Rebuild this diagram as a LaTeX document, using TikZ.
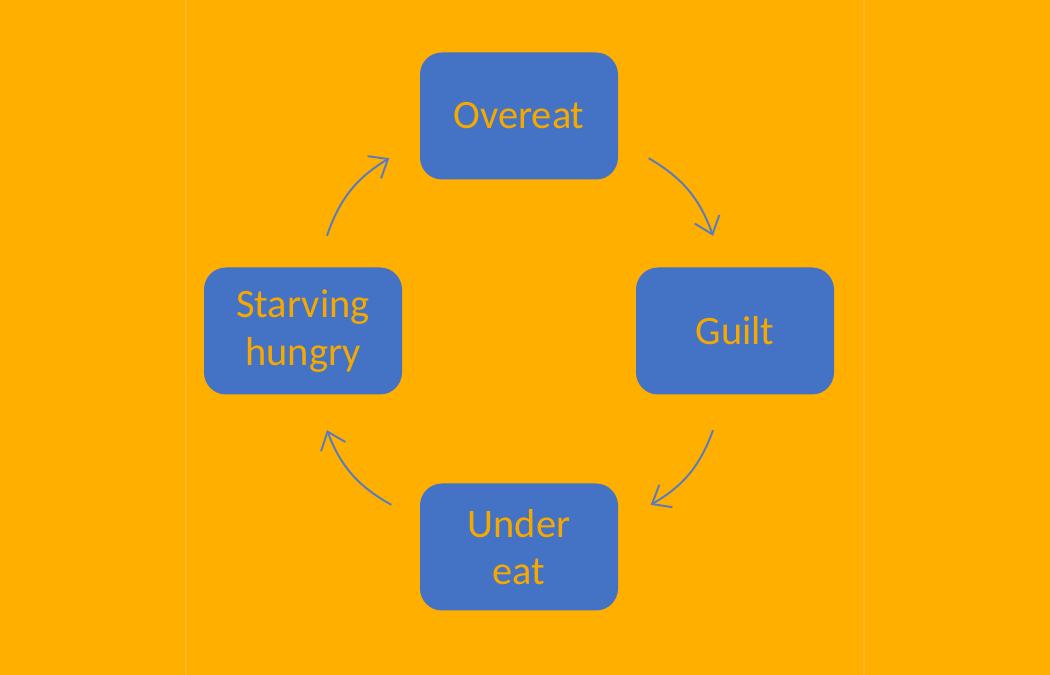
\documentclass[tikz,border=0pt]{standalone}
\usepackage{fontspec}
\setmainfont{Carlito}
\usetikzlibrary{arrows.meta,positioning}
\definecolor{bgorange}{HTML}{FFAF00}
\definecolor{edgeorange}{HTML}{FFB91C}
\definecolor{boxblue}{HTML}{4472C4}
\definecolor{textorange}{HTML}{F5A900}
\definecolor{arrowblue}{HTML}{5A7CBE}
\tikzset{
  cyclebox/.style={rectangle,rounded corners=0.22cm,fill=boxblue,
    minimum width=1.98cm,minimum height=1.27cm,align=center,
    text=textorange,font=\fontsize{11.5}{13.5}\selectfont},
  cyclearrow/.style={draw=arrowblue,line width=0.55pt,
    -{Straight Barb[length=1.6mm,width=2.6mm]}}
}

\begin{document}
\begin{tikzpicture}
    \fill[bgorange] (0,0) rectangle (10.5,6.75);
    \useasboundingbox (0,0) rectangle (10.5,6.75);
    \draw[edgeorange,line width=0.4pt] (1.86,0) -- (1.86,6.75);
    \draw[edgeorange,line width=0.4pt] (8.64,0) -- (8.64,6.75);
    % the four steps
    \node[cyclebox] (over) at (5.19,5.59) {Overeat};
    \node[cyclebox] (guilt) at (7.35,3.44) {Guilt};
    \node[cyclebox] (under) at (5.19,1.28) {Under\\eat};
    \node[cyclebox] (starv) at (3.03,3.44) {Starving\\hungry};
    % arrow ends
    \coordinate (a1) at ([shift={(0.30,0.22)}]over.south east);
    \coordinate (b1) at ([shift={(-0.22,0.31)}]guilt.north);
    \coordinate (a2) at ([shift={(-0.22,-0.35)}]guilt.south);
    \coordinate (b2) at ([shift={(0.32,-0.22)}]under.north east);
    \coordinate (a3) at ([shift={(-0.28,-0.22)}]under.north west);
    \coordinate (b3) at ([shift={(0.24,-0.35)}]starv.south);
    \coordinate (a4) at ([shift={(0.24,0.31)}]starv.north);
    \coordinate (b4) at ([shift={(-0.30,0.22)}]over.south west);
    % cycle
    \draw[cyclearrow] (a1) to[bend left=20] (b1);
    \draw[cyclearrow] (a2) to[bend left=20] (b2);
    \draw[cyclearrow] (a3) to[bend left=20] (b3);
    \draw[cyclearrow] (a4) to[bend left=20] (b4);
\end{tikzpicture}
\end{document}
